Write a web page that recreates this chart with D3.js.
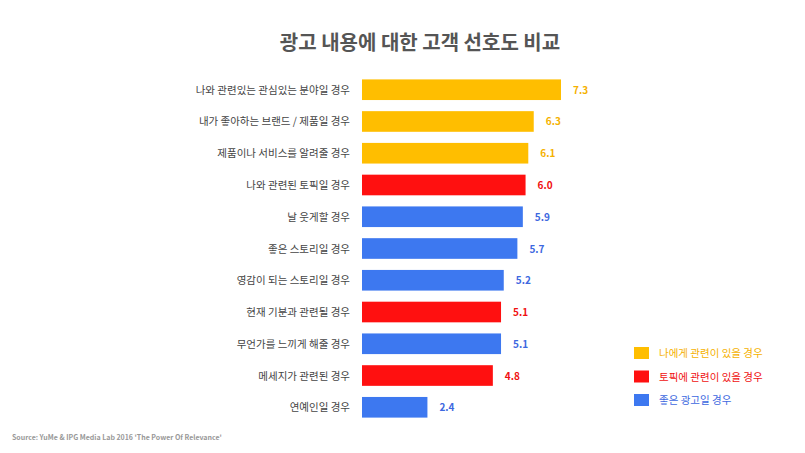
<!DOCTYPE html><html><head><meta charset="utf-8"><script src="https://cdn.jsdelivr.net/npm/d3@7"></script>
<style>body{margin:0;background:#fff}text{font-family:"Noto Sans CJK KR",sans-serif}</style></head><body><svg id="c" width="805" height="453"></svg><script>
const categories=["나와 관련있는 관심있는 분야일 경우","내가 좋아하는 브랜드 / 제품일 경우","제품이나 서비스를 알려줄 경우","나와 관련된 토픽일 경우","날 웃게할 경우","좋은 스토리일 경우","영감이 되는 스토리일 경우","현재 기분과 관련될 경우","무언가를 느끼게 해줄 경우","메세지가 관련된 경우","연예인일 경우"];
const values=[7.3,6.3,6.1,6.0,5.9,5.7,5.2,5.1,5.1,4.8,2.4];
const groups=[0,0,0,1,2,2,2,1,2,1,2];
const legendLabels=["나에게 관련이 있을 경우","토픽에 관련이 있을 경우","좋은 광고일 경우"];
const fills=["#FFBE00","#FF1010","#3D78F0"],tcols=["#F5B100","#F01010","#3D68E0"];
const svg=d3.select("#c");
svg.append("text").attr("x",420).attr("y",50).attr("text-anchor","middle").attr("font-size",20).attr("font-weight","bold").attr("fill","#555").text("광고 내용에 대한 고객 선호도 비교");
const x=d3.scaleLinear().domain([0,7.3]).range([362,561]);
const y=d3.scaleBand().domain(categories).range([74,423]).paddingInner(0.35).paddingOuter(0.17);
const g=svg.selectAll("g.r").data(categories).join("g");
g.append("rect").attr("x",x(0)).attr("y",d=>y(d)).attr("height",y.bandwidth()).attr("width",(d,i)=>x(values[i])-x(0)).attr("fill",(d,i)=>fills[groups[i]]);
g.append("text").attr("x",350).attr("y",d=>y(d)+y.bandwidth()/2+4).attr("text-anchor","end").attr("font-size",10.5).attr("fill","#444").text(d=>d);
g.append("text").attr("x",(d,i)=>x(values[i])+12).attr("y",d=>y(d)+y.bandwidth()/2+4).attr("font-size",10).attr("font-weight","bold").attr("fill",(d,i)=>tcols[groups[i]]).text((d,i)=>values[i].toFixed(1));
const lg=svg.selectAll("g.l").data(legendLabels).join("g").attr("transform",(d,i)=>`translate(634,${347+i*23.5})`);
lg.append("rect").attr("width",15).attr("height",12).attr("fill",(d,i)=>fills[i]);
lg.append("text").attr("x",25).attr("y",10).attr("font-size",10.5).attr("fill",(d,i)=>tcols[i]).text(d=>d);
svg.append("text").attr("x",12).attr("y",440).attr("font-size",7).attr("font-weight","bold").attr("fill","#999").attr("font-family","Liberation Sans").text("Source: YuMe & IPG Media Lab 2016 'The Power Of Relevance'");
</script></body></html>
